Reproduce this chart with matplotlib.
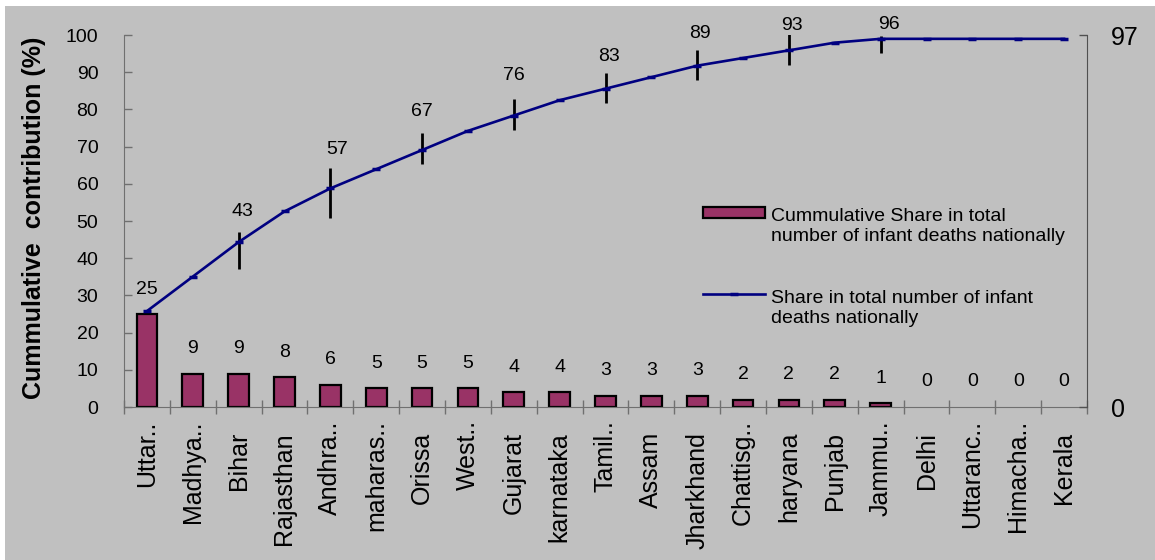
import matplotlib
matplotlib.use("Agg")
import matplotlib.pyplot as plt
from matplotlib.patches import Rectangle
from matplotlib.lines import Line2D

plt.rcParams['font.family'] = ['Liberation Sans', 'DejaVu Sans']

# ---- data -------------------------------------------------------------
states = ["Uttar..", "Madhya..", "Bihar", "Rajasthan", "Andhra..", "maharas..",
          "Orissa", "West..", "Gujarat", "karnataka", "Tamil..", "Assam",
          "Jharkhand", "Chattisg..", "haryana", "Punjab", "Jammu..", "Delhi",
          "Uttaranc..", "Himacha..", "Kerala"]
share = [25, 9, 9, 8, 6, 5, 5, 5, 4, 4, 3, 3, 3, 2, 2, 2, 1, 0, 0, 0, 0]
cumulative = [25, 34, 43, 51, 57, 62, 67, 72, 76, 80, 83, 86, 89, 91, 93, 95,
              96, 96, 96, 96, 96]
labelled_idx = [2, 4, 6, 8, 10, 12, 14, 16]
# vertical marker extents around the labelled cumulative points (below, above)
marker_below = [7.0, 7.6, 3.7, 3.7, 3.7, 3.7, 3.7, 3.8]
marker_above = [2.6, 5.2, 4.4, 4.3, 4.2, 4.2, 4.2, 0.8]
left_ticks = list(range(0, 101, 10))
right_ticks = [0, 97]

# ---- styling ------------------------------------------------------------
BG = '#c0c0c0'
BAR = '#993366'
LINE = '#000080'
AXIS_GREY = '#707070'
# label offsets (points) for cumulative labels
lab_dx = [3, 5, 0, 0, 2.5, 2, 2.5, 6]
lab_dy = [22, 28, 28, 29, 23, 23, 18, 10]

W, H = 1155, 560
fig = plt.figure(figsize=(W / 100, H / 100), dpi=100)
fig.patch.set_facecolor('white')
fig.add_artist(Rectangle((5 / W, 0), 1, (H - 6) / H, transform=fig.transFigure,
                         facecolor=BG, edgecolor='none', zorder=-10))

ax = fig.add_axes([124 / W, 153 / H, 963 / W, 372 / H])
ax.set_facecolor('none')
x = list(range(len(states)))

ax.bar(x, share, width=0.45, color=BAR, edgecolor='black',
       linewidth=[1.6 if v > 0 else 0 for v in share], zorder=2)
for i, v in zip(x, share):
    ax.annotate(str(v), (i, v), xytext=(0, 18), textcoords='offset points',
                ha='center', va='center', fontsize=14)

ax.set_xlim(-0.5, len(states) - 0.5)
ax.set_ylim(0, 100)
ax.set_yticks(left_ticks)
ax.tick_params(axis='y', direction='in', length=6, width=1, color=AXIS_GREY,
               labelsize=14, pad=18.5)
ax.set_xticks(x)
ax.set_xticklabels([])
ax.tick_params(axis='x', which='major', length=0)
ax.set_xticks([i - 0.5 for i in range(len(states) + 1)], minor=True)
ax.tick_params(axis='x', which='minor', direction='inout', length=10, width=1,
               color=AXIS_GREY)
for i, name in enumerate(states):
    dy = -9.5 if name.endswith('..') else -18
    ax.annotate(name, (i, 0), xycoords=('data', 'axes fraction'),
                xytext=(0, dy), textcoords='offset points',
                rotation=90, ha='center', va='top', fontsize=18)

for s in ['top', 'right']:
    ax.spines[s].set_visible(False)
for s in ['left', 'bottom']:
    ax.spines[s].set_color(AXIS_GREY)

ax.set_ylabel('Cummulative  contribution (%)', fontsize=18, fontweight='bold')
ax.yaxis.set_label_coords(-0.081, 0.508)

# ---- cumulative line on secondary axis ---------------------------------
ax2 = ax.twinx()
ax2.set_ylim(0, 97)
ax2.set_yticks(right_ticks)
ax2.tick_params(axis='y', direction='in', length=6, width=1, color='#505050',
                labelsize=18, pad=17)
for s in ['top', 'left', 'bottom']:
    ax2.spines[s].set_visible(False)
ax2.spines['right'].set_color('#505050')

mx = [x[i] for i in labelled_idx]
my = [cumulative[i] for i in labelled_idx]
ax2.vlines(mx, [m - b for m, b in zip(my, marker_below)],
           [m + a for m, a in zip(my, marker_above)],
           colors='black', linewidth=2, zorder=2)
ax2.plot(x, cumulative, color=LINE, lw=1.9, marker='_', ms=6, mew=2.5, zorder=3)
for xi, yi, dx, dy in zip(mx, my, lab_dx, lab_dy):
    ax2.annotate(str(yi), (xi, yi), xytext=(dx, dy), textcoords='offset points',
                 ha='center', va='center', fontsize=14)

# ---- legend --------------------------------------------------------------
ax2.add_patch(Rectangle((0.601, 0.508), 0.0645, 0.0295, transform=ax2.transAxes,
                        facecolor=BAR, edgecolor='black', linewidth=1.6,
                        clip_on=False))
ax2.text(0.672, 0.446, 'Cummulative Share in total\nnumber of infant deaths nationally',
         transform=ax2.transAxes, fontsize=14, va='baseline', ha='left',
         linespacing=1.2)
ax2.add_line(Line2D([0.601, 0.6655], [0.3038, 0.3038], transform=ax2.transAxes,
                    color=LINE, lw=1.9))
ax2.add_line(Line2D([0.633], [0.3038], transform=ax2.transAxes, color=LINE,
                    marker='_', ms=6, mew=2.5))
ax2.text(0.672, 0.2258, 'Share in total number of infant\ndeaths nationally',
         transform=ax2.transAxes, fontsize=14, va='baseline', ha='left',
         linespacing=1.2)

fig.savefig('out.png', dpi=100, facecolor=fig.get_facecolor())
